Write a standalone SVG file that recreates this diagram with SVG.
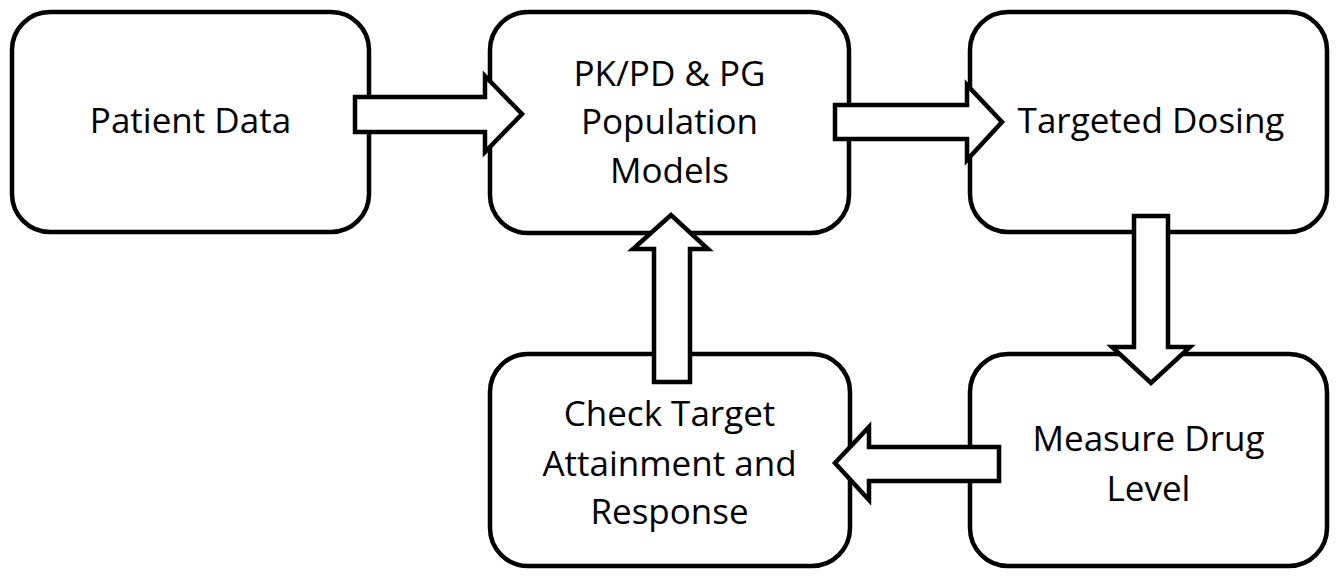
<svg xmlns="http://www.w3.org/2000/svg" width="1339" height="576" viewBox="0 0 1339 576">
<style>
.box{fill:#fff;stroke:#000;stroke-width:4.5}
.arr{fill:#fff;stroke:#000;stroke-width:4.5;stroke-linejoin:miter}
text{font-family:"Open Sans","Liberation Sans",sans-serif;font-size:35px;fill:#000;text-anchor:middle}
</style>
<rect width="1339" height="576" fill="#fff"/>
<g id="n1"><rect class="box" x="12" y="12" width="357" height="220" rx="38"/><text x="190.5" y="133">Patient Data</text></g>
<g id="n2"><rect class="box" x="490" y="12" width="359" height="221" rx="38"/><text x="669.5" y="86">PK/PD &amp; PG</text><text x="669.5" y="134">Population</text><text x="669.5" y="183">Models</text></g>
<g id="n3"><rect class="box" x="970" y="12" width="357" height="220" rx="38"/><text x="1151" y="133">Targeted Dosing</text></g>
<g id="n4"><rect class="box" x="490" y="354" width="360" height="212" rx="38"/><text x="669.5" y="426">Check Target</text><text x="669.5" y="476">Attainment and</text><text x="669.5" y="524">Response</text></g>
<g id="n5"><rect class="box" x="970" y="354" width="357" height="212" rx="38"/><text x="1148.5" y="451">Measure Drug</text><text x="1148.5" y="501">Level</text></g>
<g id="connectors">
<polygon class="arr" points="355,97 485,97 485,76 522,114 485,152 485,132 355,132"/>
<polygon class="arr" points="835,105 967,105 967,85 1002,122 967,160 967,139 835,139"/>
<polygon class="arr" points="1134,216 1168,216 1168,347 1190,347 1151,383 1112,347 1134,347"/>
<polygon class="arr" points="999,447 869,447 869,427 835,463 869,500 869,481 999,481"/>
<polygon class="arr" points="654,382 690,382 690,249 708,249 671,215 633,249 654,249"/>
</g>
</svg>
